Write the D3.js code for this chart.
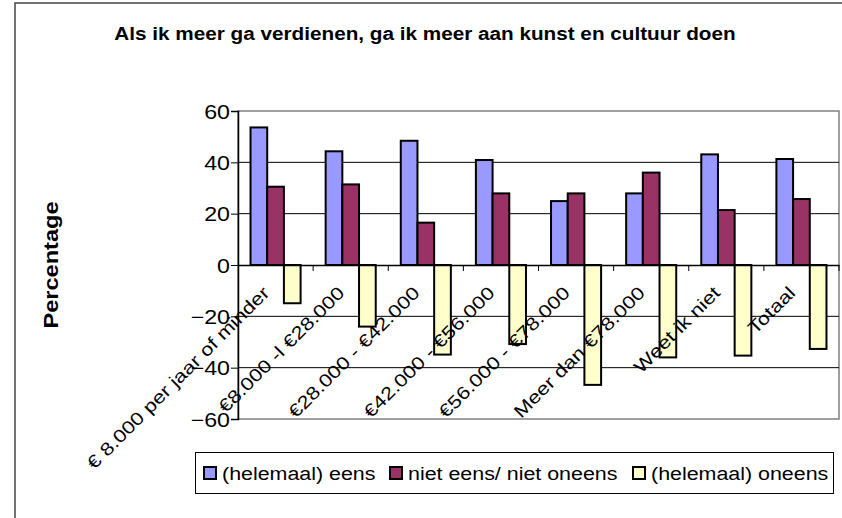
<!DOCTYPE html>
<html>
<head>
<meta charset="utf-8">
<title>Kunst en cultuur</title>
<style>
  body { margin: 0; background: #fff; }
  svg text { font-family: "Liberation Sans", Arial, sans-serif; fill: #000; }
</style>
</head>
<body>
<script src="https://d3js.org/d3.v7.min.js"></script>
<script>
// categories (income groups)
var categories = [
  "\u20ac 8.000 per jaar of minder",
  "\u20ac8.000 -l \u20ac28.000",
  "\u20ac28.000 - \u20ac42.000",
  "\u20ac42.000 - \u20ac56.000",
  "\u20ac56.000 - \u20ac78.000",
  "Meer dan \u20ac78.000",
  "Weet ik niet",
  "Totaal"
];

// series names
var seriesNames = ["(helemaal) eens", "niet eens/ niet oneens", "(helemaal) oneens"];

// values per series (percentages, oneens shown negative)
var eens     = [53.6, 44.3, 48.4, 40.9, 24.9, 27.9, 43.1, 41.3];
var neutraal = [30.5, 31.4, 16.5, 27.9, 27.9, 36.0, 21.4, 25.7];
var oneens   = [-14.9, -24.0, -34.9, -30.8, -46.7, -36.0, -35.3, -32.7];

var yTicks = [-60, -40, -20, 0, 20, 40, 60];
var colors = ["#9999ff", "#993366", "#ffffcc"];

var W = 842, H = 518;
var plot = {left: 238, top: 111, right: 839, bottom: 419};
// the original text renders a bit wider than Liberation Sans
var stretch = 1.16;

var svg = d3.select("body").append("svg")
    .attr("width", W)
    .attr("height", H);

// outer chart frame
svg.append("rect")
    .attr("x", 15).attr("y", 3)
    .attr("width", W + 20).attr("height", H + 20)
    .attr("fill", "#fff")
    .attr("stroke", "#444")
    .attr("stroke-width", 1.5);

// title
svg.append("text")
    .attr("transform", "translate(425,40) scale(1.12,1)")
    .attr("text-anchor", "middle")
    .style("font-size", "18.5px")
    .style("font-weight", "bold")
    .text("Als ik meer ga verdienen, ga ik meer aan kunst en cultuur doen");

// scales
var x = d3.scaleBand()
    .domain(categories)
    .range([plot.left, plot.right]);

var x1 = d3.scaleBand()
    .domain(d3.range(3))
    .range([0, x.bandwidth()])
    .paddingOuter(0.75)
    .paddingInner(0);

var y = d3.scaleLinear()
    .domain([-60, 60])
    .range([plot.bottom, plot.top]);

// plot area border
svg.append("rect")
    .attr("x", plot.left).attr("y", plot.top)
    .attr("width", plot.right - plot.left)
    .attr("height", plot.bottom - plot.top)
    .attr("fill", "none")
    .attr("stroke", "#808080")
    .attr("stroke-width", 1.5);

// gridlines
svg.append("g")
    .selectAll("line")
    .data(yTicks.filter(function(d) { return d !== 0 && Math.abs(d) !== 60; }))
    .enter().append("line")
    .attr("x1", plot.left).attr("x2", plot.right)
    .attr("y1", function(d) { return y(d); })
    .attr("y2", function(d) { return y(d); })
    .attr("stroke", "#000")
    .attr("stroke-width", 1);

// y axis
var yAxis = svg.append("g")
    .attr("transform", "translate(" + plot.left + ",0)")
    .call(d3.axisLeft(y).tickValues(yTicks).tickSize(7));
yAxis.select(".domain").attr("stroke", "#000").attr("stroke-width", 1.5);
yAxis.selectAll(".tick line").attr("stroke", "#000");
yAxis.selectAll(".tick text")
    .attr("x", null)
    .attr("transform", "translate(-8,0) scale(" + stretch + ",1)")
    .attr("dy", "0.36em")
    .attr("font-family", null)
    .attr("font-size", null)
    .style("font-size", "20px");

// bars
var seriesData = [eens, neutraal, oneens];
var groups = svg.append("g")
    .selectAll("g")
    .data(seriesData)
    .enter().append("g")
    .attr("fill", function(d, i) { return colors[i]; });

groups.each(function(vals, si) {
    d3.select(this).selectAll("rect")
        .data(vals)
        .enter().append("rect")
        .attr("x", function(d, i) { return x(categories[i]) + x1(si); })
        .attr("width", x1.bandwidth())
        .attr("y", function(d) { return y(Math.max(0, d)); })
        .attr("height", function(d) { return Math.abs(y(d) - y(0)); })
        .attr("stroke", "#000")
        .attr("stroke-width", 2);
});

// x axis on zero line
var xAxis = svg.append("g")
    .attr("transform", "translate(0," + y(0) + ")")
    .call(d3.axisBottom(x).tickSize(0).tickFormat(""));
xAxis.select(".domain").attr("stroke", "#000").attr("stroke-width", 1.5);

// category ticks between groups
svg.append("g")
    .selectAll("line")
    .data(categories)
    .enter().append("line")
    .attr("x1", function(d) { return x(d) + x.bandwidth(); })
    .attr("x2", function(d) { return x(d) + x.bandwidth(); })
    .attr("y1", y(0))
    .attr("y2", y(0) + 6)
    .attr("stroke", "#000");

// rotated category labels
svg.append("g")
    .selectAll("text")
    .data(categories)
    .enter().append("text")
    .attr("text-anchor", "end")
    .attr("transform", function(d) {
        var cx = x(d) + x.bandwidth() / 2 - 5;
        return "translate(" + cx + "," + (y(0) + 29) + ") rotate(-45) scale(1.21,1)";
    })
    .style("font-size", "18px")
    .text(function(d) { return d; });

// y axis title
svg.append("text")
    .attr("transform", "translate(57.5,265) rotate(-90) scale(1.18,1)")
    .attr("text-anchor", "middle")
    .style("font-size", "20px")
    .style("font-weight", "bold")
    .text("Percentage");

// legend
var legend = svg.append("g");
legend.append("rect")
    .attr("x", 195.5).attr("y", 452.5)
    .attr("width", 638).attr("height", 41)
    .attr("fill", "#fff")
    .attr("stroke", "#000")
    .attr("stroke-width", 1);

var legendX = [204, 390, 633];
var items = legend.selectAll("g.item")
    .data(seriesNames)
    .enter().append("g")
    .attr("class", "item")
    .attr("transform", function(d, i) { return "translate(" + legendX[i] + ",473)"; });
items.append("rect")
    .attr("x", 0).attr("y", -6)
    .attr("width", 12).attr("height", 12)
    .attr("fill", function(d, i) { return colors[i]; })
    .attr("stroke", "#000")
    .attr("stroke-width", 2);
items.append("text")
    .attr("transform", "translate(18,6.5) scale(1.19,1)")
    .style("font-size", "18px")
    .text(function(d) { return d; });
</script>
</body>
</html>
